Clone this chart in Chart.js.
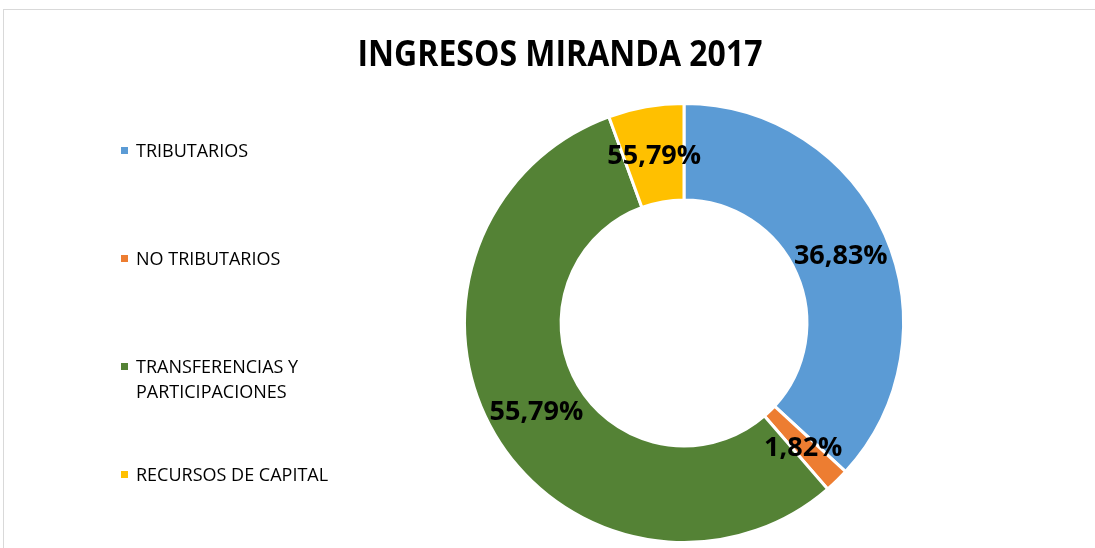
<!DOCTYPE html>
<html><head><meta charset="utf-8">
<script src="https://cdn.jsdelivr.net/npm/chart.js@4.4.0/dist/chart.umd.min.js"></script>
<style>html,body{margin:0;padding:0;background:#fff;overflow:hidden}#wrap{position:absolute;left:0;top:0;width:1095px;height:548px}</style>
</head><body><div id="wrap"><canvas id="c" width="1095" height="548"></canvas></div>
<script>
const chartTitle = 'INGRESOS MIRANDA 2017';
const categories = ['TRIBUTARIOS', 'NO TRIBUTARIOS', 'TRANSFERENCIAS Y PARTICIPACIONES', 'RECURSOS DE CAPITAL'];
const legendLines = [['TRIBUTARIOS'], ['NO TRIBUTARIOS'], ['TRANSFERENCIAS Y', 'PARTICIPACIONES'], ['RECURSOS DE CAPITAL']];
const values = [36.83, 1.82, 55.79, 5.56];
const valueLabels = ['36,83%', '1,82%', '55,79%', '55,79%'];
const colors = ['#5B9BD5', '#ED7D31', '#548235', '#FFC000'];

const FONT = '"Open Sans", "Noto Sans", sans-serif';

const decor = {
  id: 'decor',
  beforeDraw(chart) {
    const ctx = chart.ctx;
    ctx.save();
    ctx.strokeStyle = '#d9d9d9';
    ctx.lineWidth = 1;
    ctx.strokeRect(3.5, 9.5, 1300, 700);
    ctx.restore();
  },
  afterDraw(chart) {
    const ctx = chart.ctx;
    ctx.save();
    // title
    ctx.fillStyle = '#000';
    ctx.font = 'bold 36px ' + FONT;
    ctx.textBaseline = 'alphabetic';
    ctx.textAlign = 'center';
    const tw = ctx.measureText(chartTitle).width;
    const sx = Math.min(1, 405 / tw);
    ctx.save();
    ctx.translate(560, 66);
    ctx.scale(sx, 1);
    ctx.fillText(chartTitle, 0, 0);
    ctx.restore();

    // legend
    ctx.textAlign = 'left';
    ctx.font = '18px ' + FONT;
    legendLines.forEach((lines, i) => {
      const cy = 151 + i * 108;
      ctx.fillStyle = chart.data.datasets[0].backgroundColor[i];
      ctx.fillRect(121, cy - 4, 7, 7);
      ctx.fillStyle = '#000';
      lines.forEach((ln, j) => {
        ctx.fillText(ln, 136, cy + 6 + j * 25);
      });
    });

    // value labels
    const meta = chart.getDatasetMeta(0);
    ctx.font = 'bold 27px ' + FONT;
    ctx.textAlign = 'center';
    ctx.fillStyle = '#000';
    meta.data.forEach((arc, i) => {
      const p = arc.getCenterPoint();
      ctx.fillText(valueLabels[i], p.x, p.y + 10);
    });
    ctx.restore();
  }
};

new Chart(document.getElementById('c'), {
  type: 'doughnut',
  data: {
    labels: categories,
    datasets: [{
      data: values,
      backgroundColor: colors,
      borderColor: '#ffffff',
      borderWidth: 3
    }]
  },
  options: {
    responsive: false,
    animation: false,
    cutout: '56%',
    layout: { padding: { left: 463, right: 190, top: 102, bottom: 4 } },
    plugins: { legend: { display: false }, tooltip: { enabled: false }, title: { display: false } }
  },
  plugins: [decor]
});
</script>
</body></html>
